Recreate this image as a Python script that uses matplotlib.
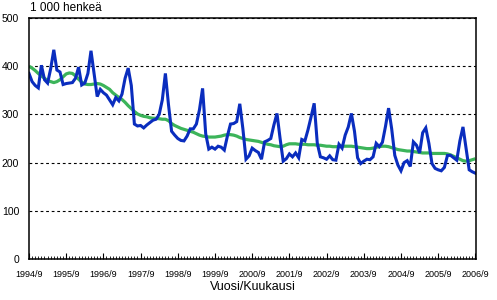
import matplotlib.pyplot as plt
from matplotlib.ticker import MultipleLocator

plt.rcParams["font.family"] = ["Liberation Sans", "DejaVu Sans"]

# monthly values, 1994/9 ... 2006/9 (1 000 persons)
job_seekers = [
    385, 368, 360, 355, 402, 372, 365, 395, 434, 392, 388, 362,  # 1994/9-
    364, 365, 366, 375, 398, 361, 365, 385, 432, 385, 337, 352,  # 1995/9-
    345, 340, 330, 320, 335, 328, 342, 375, 396, 360, 280, 276,  # 1996/9-
    277, 272, 278, 283, 288, 290, 300, 330, 385, 320, 265, 257,  # 1997/9-
    250, 246, 245, 255, 270, 270, 280, 310, 354, 260, 228, 232,  # 1998/9-
    228, 234, 232, 226, 255, 280, 281, 285, 322, 270, 207, 214,  # 1999/9-
    230, 225, 221, 207, 243, 246, 250, 278, 302, 250, 203, 208,  # 2000/9-
    218, 212, 220, 210, 248, 245, 268, 295, 323, 240, 212, 210,  # 2001/9-
    207, 214, 206, 205, 238, 230, 257, 274, 302, 265, 210, 198,  # 2002/9-
    203, 207, 206, 212, 240, 233, 242, 275, 313, 270, 215, 195,  # 2003/9-
    183, 200, 204, 192, 243, 236, 220, 262, 272, 240, 198, 188,  # 2004/9-
    185, 183, 190, 215, 215, 210, 205, 245, 274, 230, 185, 181,  # 2005/9-
    178,                                                         # 2006/9
]

trend = [
    400, 396, 391, 385, 380, 375, 370, 368, 366, 368, 372, 378,
    384, 386, 385, 380, 373, 367, 363, 362, 362, 363, 364, 363,
    360, 356, 352, 345, 340, 335, 331, 325, 318, 312, 306, 301,
    298, 296, 295, 293, 292, 292, 291, 290, 290, 287, 281, 277,
    274, 271, 269, 267, 265, 263, 260, 257, 255, 254, 253, 253,
    253, 254, 255, 257, 258, 258, 257, 255, 252, 250, 248, 247,
    246, 245, 244, 242, 240, 238, 237, 235, 234, 233, 234, 237,
    239, 239, 239, 238, 238, 238, 237, 237, 237, 236, 236, 235,
    234, 234, 233, 233, 233, 234, 234, 234, 234, 233, 232, 231,
    230, 229, 229, 230, 232, 233, 234, 234, 233, 231, 229, 227,
    226, 225, 224, 224, 223, 222, 221, 220, 220, 220, 219, 219,
    219, 219, 219, 218, 216, 213, 210, 207, 204, 203, 204, 206,
    208,
]

tick_labels = ["1994/9", "1995/9", "1996/9", "1997/9", "1998/9", "1999/9", "2000/9",
               "2001/9", "2002/9", "2003/9", "2004/9", "2005/9", "2006/9"]

months = list(range(len(job_seekers)))

fig = plt.figure(figsize=(4.97, 3.0), dpi=100)
ax = fig.add_axes([29 / 497, 1 - 259 / 300, 447 / 497, 241 / 300])

ax.plot(months, trend, color="#3CB45A", linewidth=2.3, solid_capstyle="butt")
ax.plot(months, job_seekers, color="#0A2DBE", linewidth=2.2, solid_joinstyle="miter")

ax.set_xlim(0, 144.2)
ax.set_ylim(0, 500)

ax.set_xticks(range(0, 145, 12))
ax.set_xticklabels(tick_labels, fontsize=6.5)
ax.xaxis.set_minor_locator(MultipleLocator(1))
ax.tick_params(axis="x", which="major", direction="in", length=4, width=0.8, pad=8)
ax.tick_params(axis="x", which="minor", direction="in", length=2, width=0.6)

ax.set_yticks(range(0, 501, 100))
ax.tick_params(axis="y", length=0, pad=7, labelsize=7.5)

ax.grid(axis="y", color="black", linestyle=(0, (2.5, 2.5)), linewidth=0.8)
ax.set_axisbelow(True)
for sp in ax.spines.values():
    sp.set_linewidth(1.1)

fig.text(30 / 497, 1 - 8 / 300, "1 000 henkeä", fontsize=8.5, va="center", ha="left")
fig.text(253 / 497, 1 - 287 / 300, "Vuosi/Kuukausi", fontsize=9, va="center", ha="center")

fig.savefig("out.png", dpi=100)
